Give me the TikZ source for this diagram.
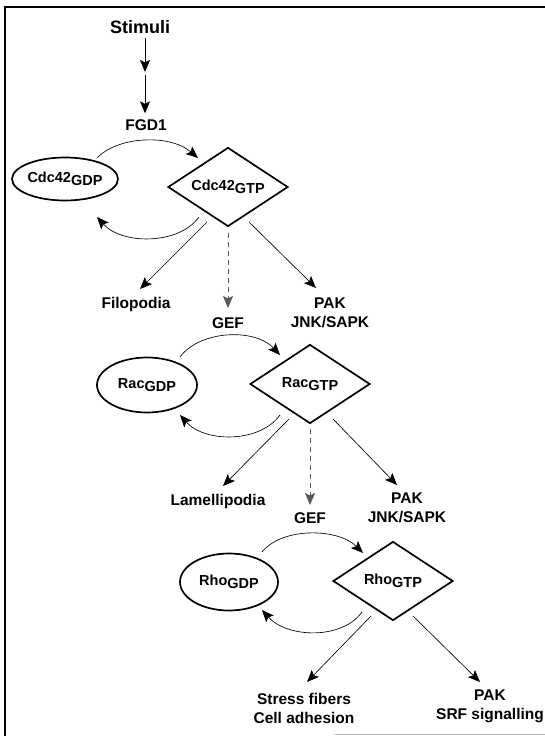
\documentclass[tikz,border=0pt]{standalone}
\usepackage{fontspec}
\setmainfont{Liberation Sans}
\usetikzlibrary{arrows.meta,shapes.geometric}
\tikzset{
  lbl/.style={font=\bfseries\fontsize{15.5}{19}\selectfont, inner sep=0pt, align=center},
  gdp/.style={ellipse, draw, line width=1.7pt, inner sep=0pt, font=\bfseries\fontsize{14.5}{16}\selectfont},
  gtp/.style={diamond, draw, line width=1.7pt, inner sep=0pt, aspect=1.5, minimum width=120pt, minimum height=79pt, font=\bfseries\fontsize{14.5}{16}\selectfont},
  arr/.style={line width=0.65pt, -{Stealth[length=12pt,width=10pt,inset=2.5pt]}},
  darr/.style={arr, draw=black!65, dash pattern=on 5pt off 4pt}
}
\newcommand{\sbs}[1]{\raisebox{-0.45ex}{#1}}
\begin{document}
\begin{tikzpicture}[x=1pt,y=-1pt]
\useasboundingbox (0,0) rectangle (545,736);
% frame
\draw[line width=1.4pt] (5,736) -- (5,7) -- (545,7);
\draw[line width=1pt, black!30] (335,734.5) -- (545,734.5);

% top
\node[lbl, font=\bfseries\fontsize{18}{20}\selectfont] (stim) at (140,27) {Stimuli};
\coordinate (mid) at (145,73.5);
\node[lbl] (fgd) at (146,125) {FGD1};
\draw[arr] ([yshift=-4pt]stim.south -| mid) -- ([yshift=1.5pt]mid);
\draw[arr] ([yshift=-1.5pt]mid) -- ([yshift=6pt]fgd.north -| mid);

% Cdc42 row
\node[gdp, minimum width=100pt, minimum height=43pt] (e1) at (65,179) {Cdc42\sbs{GDP}};
\node[gtp] (d1) at (228,187) {Cdc42\sbs{GTP}};
\draw[arr] ([shift={(32,-21)}]e1.center) .. controls +(21,-22) and +(-28,-24) .. ([shift={(-30,-29)}]d1.center);
\draw[arr] ([shift={(-29,30)}]d1.center) .. controls +(-20,28) and +(25,28) .. ([shift={(32,38)}]e1.center);
\node[lbl] (filo) at (136,304) {Filopodia};
\node[lbl] (gef1) at (228,323) {GEF};
\node[lbl] (pak1) at (330,313) {PAK\\JNK/SAPK};
\draw[arr] ([shift={(-21,35)}]d1.center) -- ([shift={(4,-15)}]filo.center);
\draw[darr] ([shift={(0,46)}]d1.center) -- ([shift={(0,-15)}]gef1.center);
\draw[arr] ([shift={(21,35)}]d1.center) -- ([shift={(-14,-25)}]pak1.center);

% Rac row
\node[gdp, minimum width=100pt, minimum height=55pt] (e2) at (147,385) {Rac\sbs{GDP}};
\node[gtp] (d2) at (310,384) {Rac\sbs{GTP}};
\draw[arr] ([shift={(33,-28)}]e2.center) .. controls +(20,-27) and +(-25,-27) .. ([shift={(-30,-29)}]d2.center);
\draw[arr] ([shift={(-30,31)}]d2.center) .. controls +(-20,28) and +(25,28) .. ([shift={(33,30)}]e2.center);
\node[lbl] (lam) at (218,501) {Lamellipodia};
\node[lbl] (gef2) at (310,518) {GEF};
\node[lbl] (pak2) at (407,508) {PAK\\JNK/SAPK};
\draw[arr] ([shift={(-21,35)}]d2.center) -- ([shift={(5,-15)}]lam.center);
\draw[darr] ([shift={(0,45)}]d2.center) -- ([shift={(0,-13)}]gef2.center);
\draw[arr] ([shift={(23,35)}]d2.center) -- ([shift={(-10,-23)}]pak2.center);

% Rho row
\node[gdp, minimum width=98pt, minimum height=57pt] (e3) at (229,582) {Rho\sbs{GDP}};
\node[gtp] (d3) at (393,581) {Rho\sbs{GTP}};
\draw[arr] ([shift={(33,-30)}]e3.center) .. controls +(20,-25) and +(-25,-25) .. ([shift={(-30,-28)}]d3.center);
\draw[arr] ([shift={(-31,31)}]d3.center) .. controls +(-20,28) and +(25,28) .. ([shift={(33,28)}]e3.center);
\node[lbl] (stress) at (304,708) {Stress fibers\\Cell adhesion};
\node[lbl] (pak3) at (490,706.5) {PAK\\SRF signalling};
\draw[arr] ([shift={(-22,35)}]d3.center) -- ([shift={(3,-26)}]stress.center);
\draw[arr] ([shift={(20,35)}]d3.center) -- ([shift={(-10,-24.5)}]pak3.center);
\end{tikzpicture}
\end{document}
